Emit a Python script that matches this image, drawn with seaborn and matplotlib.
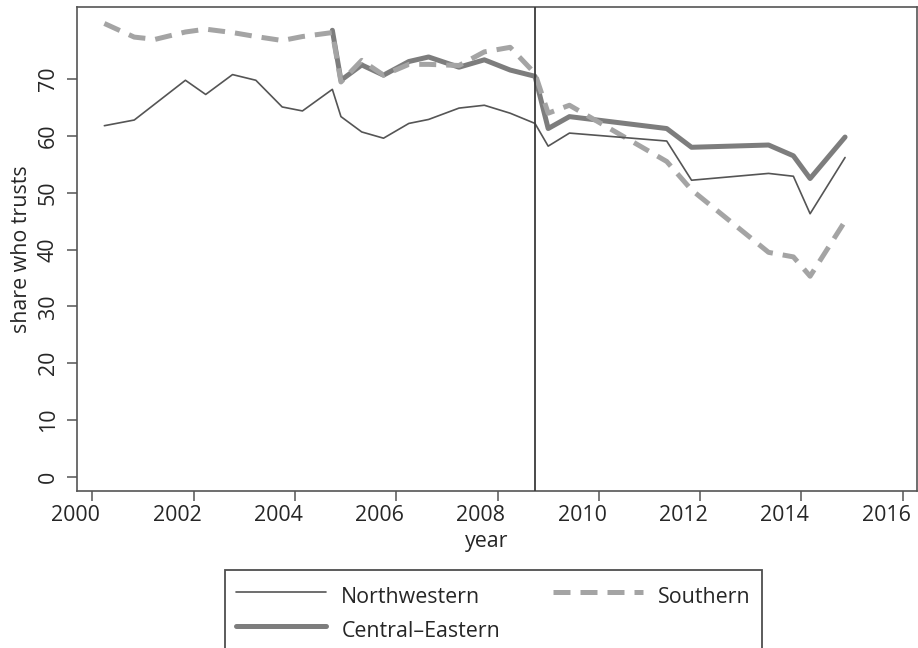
import numpy as np
import pandas as pd
import matplotlib
matplotlib.use("Agg")
import matplotlib.pyplot as plt
import matplotlib.transforms as mtransforms
import seaborn as sns

# survey waves (fractional years)
nw_years = [2000.24, 2000.83, 2001.84, 2002.24, 2002.77, 2003.23, 2003.75, 2004.15,
            2004.74, 2004.91, 2005.32, 2005.75, 2006.25, 2006.64, 2007.24, 2007.74,
            2008.25, 2008.74, 2009.00, 2009.42, 2011.34, 2011.83, 2013.35, 2013.84,
            2014.17, 2014.86]
nw_trust = [61.8, 62.8, 69.8, 67.3, 70.8, 69.8, 65.1, 64.4,
            68.2, 63.4, 60.7, 59.6, 62.2, 62.9, 64.9, 65.4,
            64.0, 62.2, 58.2, 60.5, 59.1, 52.2, 53.4, 52.9,
            46.3, 56.2]

ce_years = [2004.74, 2004.91, 2005.32, 2005.75, 2006.25, 2006.64, 2007.24, 2007.74,
            2008.25, 2008.74, 2009.00, 2009.42, 2011.34, 2011.83, 2013.35, 2013.84,
            2014.17, 2014.86]
ce_trust = [78.6, 69.8, 72.5, 70.7, 73.1, 73.9, 72.1, 73.4,
            71.6, 70.5, 61.3, 63.4, 61.3, 58.0, 58.4, 56.5,
            52.5, 59.8]

s_years = [2000.24, 2000.83, 2001.24, 2001.84, 2002.24, 2002.77, 2003.23, 2003.75,
           2004.15, 2004.74, 2004.91, 2005.32, 2005.75, 2006.25, 2006.64, 2007.24,
           2007.74, 2008.25, 2008.74, 2009.00, 2009.42, 2011.34, 2011.83, 2013.35,
           2013.84, 2014.17, 2014.86]
s_trust = [79.8, 77.4, 77.0, 78.3, 78.8, 78.2, 77.5, 76.8,
           77.5, 78.2, 69.5, 73.3, 70.7, 72.6, 72.6, 72.4,
           74.8, 75.6, 71.0, 64.0, 65.4, 55.5, 50.5, 39.5,
           38.7, 35.3, 45.0]

crisis_year = 2008.74
x_ticks = list(range(2000, 2017, 2))
y_ticks = list(range(0, 71, 10))

sns.set_style("ticks")
plt.rcParams['font.family'] = ['Open Sans', 'DejaVu Sans']
FS = 15.4

fig = plt.figure(figsize=(9.18, 6.48), dpi=100)
ax = fig.add_axes([77 / 918, 1 - 491 / 648, 840 / 918, 484 / 648])

nw = pd.DataFrame({"year": nw_years, "trust": nw_trust})
ce = pd.DataFrame({"year": ce_years, "trust": ce_trust})
south = pd.DataFrame({"year": s_years, "trust": s_trust})

sns.lineplot(data=ce, x="year", y="trust", ax=ax, color="#7d7d7d", lw=3.6,
             label="Central\u2013Eastern", zorder=3)
sns.lineplot(data=south, x="year", y="trust", ax=ax, color="#a4a4a4", lw=3.6,
             linestyle=(0, (3.4, 2.0)), label="Southern", zorder=4)
sns.lineplot(data=nw, x="year", y="trust", ax=ax, color="#555555", lw=1.2,
             label="Northwestern", zorder=5)

ax.axvline(crisis_year, color="#3a3a3a", lw=1.3, zorder=6)

ax.set_xlim(1999.70, 2016.28)
ax.set_ylim(-2.52, 82.7)
ax.set_xticks(x_ticks)
ax.set_yticks(y_ticks)
ax.set_xlabel("year", fontsize=FS)
ax.set_ylabel("share who trusts", fontsize=FS)
ax.xaxis.set_label_coords((487 - 77) / 840, -0.083)
ax.yaxis.set_label_coords(-0.054, 0.5)
ax.tick_params(axis="both", labelsize=FS, length=7, width=1.1, color="#555555")
ax.tick_params(axis="y", labelrotation=90, pad=6)
ax.tick_params(axis="x", pad=3)
for lab in ax.get_yticklabels():
    lab.set_va("center")
# year labels sit a little left of their tick marks in the original
shift = mtransforms.ScaledTranslation(-0.166, 0, fig.dpi_scale_trans)
for lab in ax.get_xticklabels():
    lab.set_transform(lab.get_transform() + shift)
for sp in ax.spines.values():
    sp.set_color("#555555")
    sp.set_linewidth(1.2)

ax.get_legend().remove()
h, l = ax.get_legend_handles_labels()
order = [2, 0, 1]
leg = fig.legend([h[i] for i in order], [l[i] for i in order], ncol=2,
                 loc="upper left", bbox_to_anchor=(225 / 918, 1 - 570 / 648),
                 fontsize=FS, handlelength=4.2, handleheight=1.75,
                 handletextpad=0.72, columnspacing=2.48, labelspacing=0.2,
                 fancybox=False, borderpad=0.52, borderaxespad=0)
leg.get_frame().set_edgecolor("#222222")
leg.get_frame().set_linewidth(1.3)

fig.savefig("out.png", dpi=100)
